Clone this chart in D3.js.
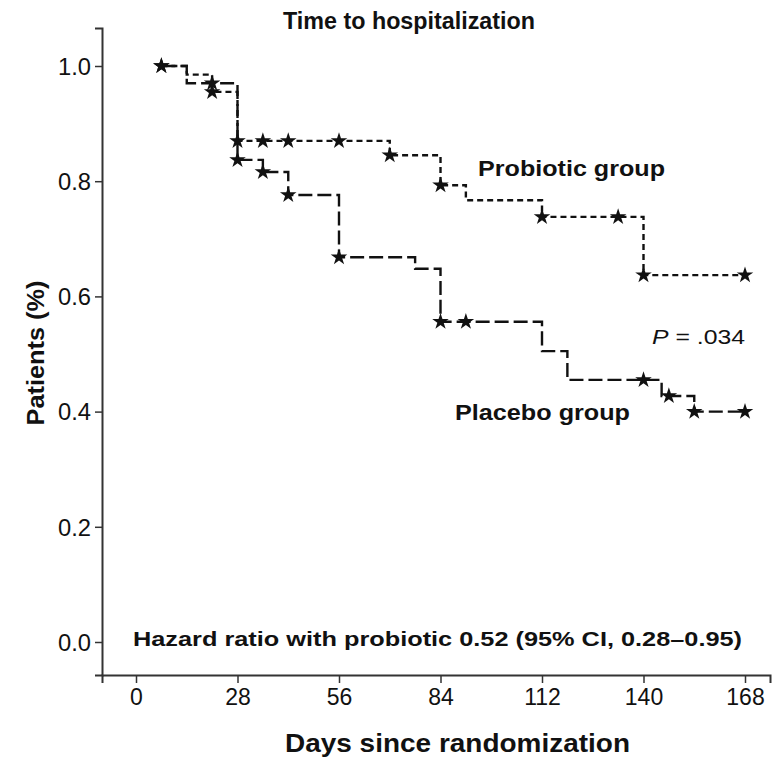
<!DOCTYPE html>
<html>
<head>
<meta charset="utf-8">
<script src="https://cdn.jsdelivr.net/npm/d3@7"></script>
<style>
  body { margin: 0; background: #fff; }
  text { font-family: "Liberation Sans", Arial, sans-serif; fill: #111; }
</style>
</head>
<body>
<div id="chart"></div>
<script>
/**
 * DATA
 */
const xTicks = [0, 28, 56, 84, 112, 140, 168];
const yTicks = [0, 0.2, 0.4, 0.6, 0.8, 1.0];

// probiotic group: step times (days) and survival after each step
const probioticDays = [7, 14, 21, 28, 70, 84, 91, 112, 140, 168];
const probioticSurv = [1.0, 0.985, 0.955, 0.87, 0.845, 0.793, 0.767, 0.738, 0.637, 0.637];
const probioticCensorDays = [7, 21, 28, 35, 42, 56, 70, 84, 112, 133, 140, 168];

// placebo group
const placeboDays = [7, 14, 28, 35, 42, 56, 77, 84, 112, 119, 145, 154, 168];
const placeboSurv = [1.0, 0.97, 0.837, 0.816, 0.776, 0.668, 0.648, 0.556, 0.505, 0.455, 0.427, 0.40, 0.40];
const placeboCensorDays = [7, 21, 28, 35, 42, 56, 84, 91, 140, 147, 154, 168];

/**
 * CONSTANTS
 */
const width = 774, height = 758;
const panel = { left: 102, right: 770, top: 28, bottom: 675 };

const svg = d3.select("#chart")
  .append("svg")
  .attr("width", width)
  .attr("height", height);

// scales: day 0 -> 136px, day 168 -> 745px ; 1.0 -> 66px, 0.0 -> 642px
const x = d3.scaleLinear().domain([0, 168]).range([136, 745]);
const y = d3.scaleLinear().domain([0, 1]).range([642, 66]);
x.domain([x.invert(panel.left), x.invert(panel.right)]).range([panel.left, panel.right]);
y.domain([y.invert(panel.bottom), y.invert(panel.top)]).range([panel.bottom, panel.top]);

// axes
const xAxis = svg.append("g")
  .attr("transform", `translate(0,${panel.bottom})`)
  .call(d3.axisBottom(x).tickValues(xTicks).tickSizeOuter(0).tickSize(8).tickPadding(6));
const yAxis = svg.append("g")
  .attr("transform", `translate(${panel.left},0)`)
  .call(d3.axisLeft(y).tickValues(yTicks).tickFormat(d3.format(".1f")).tickSizeOuter(0).tickSize(7).tickPadding(4));

[xAxis, yAxis].forEach(g => {
  g.select(".domain").attr("stroke", "#333").attr("stroke-width", 2);
  g.selectAll(".tick line").attr("stroke", "#333").attr("stroke-width", 1.5);
  g.selectAll(".tick text")
    .attr("font-family", "Liberation Sans, Arial, sans-serif")
    .attr("font-size", 23)
    .attr("fill", "#333");
});
xAxis.selectAll(".tick text").attr("dy", "0.7em");
yAxis.selectAll(".tick text").attr("dy", "0.36em")
  .attr("textLength", 33).attr("lengthAdjust", "spacingAndGlyphs");

// step curves
const stepLine = d3.line()
  .x(d => x(d[0]))
  .y(d => y(d[1]))
  .curve(d3.curveStepAfter);

function survAt(days, surv, t) {
  let s = surv[0];
  days.forEach((d, i) => { if (d <= t) s = surv[i]; });
  return s;
}

const groups = [
  { days: probioticDays, surv: probioticSurv, censor: probioticCensorDays, dash: "6,4" },
  { days: placeboDays, surv: placeboSurv, censor: placeboCensorDays, dash: "14,5" }
];

const star = d3.symbol().type(d3.symbolStar).size(85);

groups.forEach(g => {
  svg.append("path")
    .datum(g.days.map((d, i) => [d, g.surv[i]]))
    .attr("d", stepLine)
    .attr("fill", "none")
    .attr("stroke", "#111")
    .attr("stroke-width", 2.4)
    .attr("stroke-dasharray", g.dash);

  svg.append("g")
    .selectAll("path.censor")
    .data(g.censor)
    .join("path")
    .attr("class", "censor")
    .attr("d", star)
    .attr("fill", "#111")
    .attr("transform", d => `translate(${x(d)},${y(survAt(g.days, g.surv, d))})`);
});

// titles and annotations (widths fitted to the reference)
function label(xp, yp, str, size, len, anchor) {
  return svg.append("text")
    .attr("x", xp).attr("y", yp)
    .attr("text-anchor", anchor || "start")
    .attr("font-weight", "bold").attr("font-size", size)
    .attr("textLength", len).attr("lengthAdjust", "spacingAndGlyphs")
    .text(str);
}

label(283, 29, "Time to hospitalization", 23, 252);
label(285, 752, "Days since randomization", 26, 345);
label(478, 176, "Probiotic group", 22, 187);
label(455, 420, "Placebo group", 22, 175);
label(133, 646, "Hazard ratio with probiotic 0.52 (95% CI, 0.28\u20130.95)", 21, 609);

svg.append("text")
  .attr("transform", "translate(44,353) rotate(-90)")
  .attr("text-anchor", "middle")
  .attr("font-weight", "bold").attr("font-size", 24)
  .attr("textLength", 145).attr("lengthAdjust", "spacingAndGlyphs")
  .text("Patients (%)");

const pText = svg.append("text")
  .attr("x", 652).attr("y", 344)
  .attr("font-size", 21)
  .attr("fill", "#333")
  .attr("textLength", 93).attr("lengthAdjust", "spacingAndGlyphs");
pText.append("tspan").attr("font-style", "italic").text("P");
pText.append("tspan").text(" = .034");
</script>
</body>
</html>
